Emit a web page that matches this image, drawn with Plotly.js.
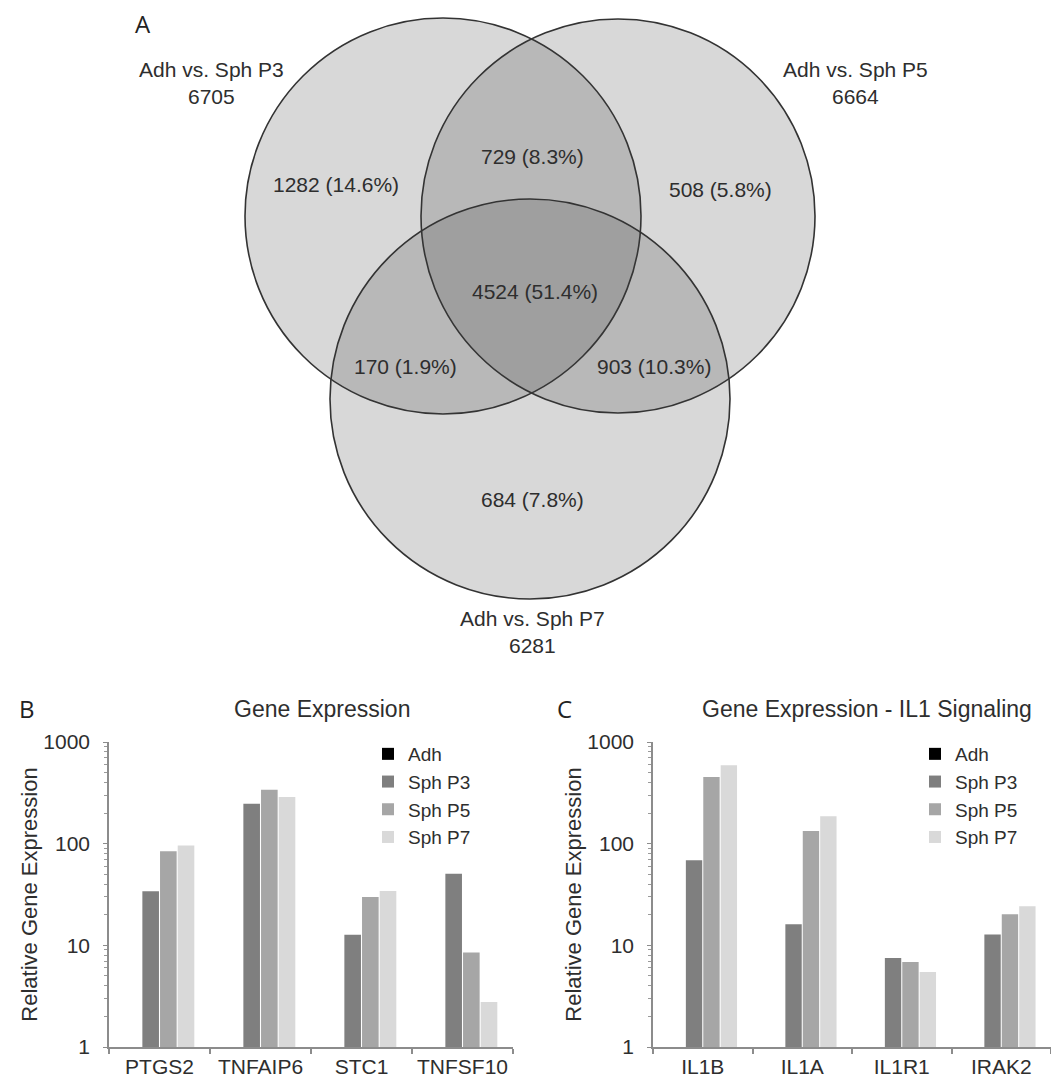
<!DOCTYPE html>
<html><head><meta charset="utf-8">
<script src="https://cdn.plot.ly/plotly-3.0.1.min.js"></script>
<style>html,body{margin:0;padding:0;background:#fff}#chart{width:1051px;height:1082px}</style>
</head><body><div id="chart"></div>
<script>
// ---------- Data ----------
// Panel A – Venn diagram
const vennSets = ['Adh vs. Sph P3', 'Adh vs. Sph P5', 'Adh vs. Sph P7'];
const vennTotals = [6705, 6664, 6281];
const vennCounts = [1282, 729, 508, 4524, 170, 903, 684];   // P3 only, P3&P5, P5 only, all, P3&P7, P5&P7, P7 only
const vennPercents = [14.6, 8.3, 5.8, 51.4, 1.9, 10.3, 7.8];

// Panel B – Gene Expression
const genesB = ['PTGS2', 'TNFAIP6', 'STC1', 'TNFSF10'];
const adhB = [1, 1, 1, 1];
const p3B = [34, 247, 12.7, 50.7];
const p5B = [84, 340, 29.9, 8.5];
const p7B = [96, 288, 34.2, 2.77];

// Panel C – Gene Expression - IL1 Signaling
const genesC = ['IL1B', 'IL1A', 'IL1R1', 'IRAK2'];
const adhC = [1, 1, 1, 1];
const p3C = [68.6, 16.1, 7.5, 12.8];
const p5C = [453, 133, 6.86, 20.2];
const p7C = [589, 186, 5.47, 24.2];

const seriesNames = ['Adh', 'Sph P3', 'Sph P5', 'Sph P7'];
const yTickVals = [1, 10, 100, 1000];
const yTickText = ['1', '10', '100', '1000'];

// ---------- Layout / style ----------
const W = 1051, H = 1082;
const px = v => v / W;
const py = v => (H - v) / H;
const FONT = 'Liberation Sans, Arial, Helvetica, sans-serif';
const TXT = '#2e2e2e';
const seriesColors = ['#000000', '#7f7f7f', '#a6a6a6', '#d9d9d9'];

// Venn geometry (pixel space of hidden overlay axis)
const circleGeom = [
  {cx: 443, cy: 216, r: 198},
  {cx: 618, cy: 216, r: 197},
  {cx: 530, cy: 399, r: 200}
];
const setLabelPos = [{x: 211, y: 83}, {x: 855, y: 83}, {x: 532, y: 632}];
const regionLabelPos = [
  {x: 336, y: 184}, {x: 532, y: 156}, {x: 720, y: 189}, {x: 535, y: 291},
  {x: 405, y: 366}, {x: 654, y: 366}, {x: 532, y: 499}
];

const traces = [];
const seriesB = [adhB, p3B, p5B, p7B];
const seriesC = [adhC, p3C, p5C, p7C];
seriesNames.forEach((name, i) => {
  traces.push({
    type: 'bar', name: name, x: genesB, y: seriesB[i], xaxis: 'x', yaxis: 'y',
    marker: {color: seriesColors[i], line: {width: 0}}, legend: 'legend', hoverinfo: 'x+y+name'
  });
});
seriesNames.forEach((name, i) => {
  traces.push({
    type: 'bar', name: name, x: genesC, y: seriesC[i], xaxis: 'x2', yaxis: 'y2',
    marker: {color: seriesColors[i], line: {width: 0}}, legend: 'legend2', hoverinfo: 'x+y+name'
  });
});
// empty trace to host the overlay axes for the Venn diagram
traces.push({type: 'scatter', x: [], y: [], xaxis: 'x3', yaxis: 'y3', showlegend: false, hoverinfo: 'skip'});

const plotTop = 742, plotBottom = 1047;
const yDomain = [py(plotBottom), py(plotTop)];

function yAxis(anchor) {
  return {
    type: 'log', range: [0, 3], domain: yDomain, anchor: anchor,
    tickvals: yTickVals, ticktext: yTickText,
    ticks: 'outside', ticklen: 4, tickwidth: 1, tickcolor: '#8c8c8c',
    ticklabelstandoff: 9,
    minor: {ticks: 'outside', ticklen: 3, tickcolor: '#9a9a9a', dtick: 'D1', showgrid: false},
    showline: true, linecolor: '#8c8c8c', linewidth: 1.5,
    showgrid: false, zeroline: false, automargin: false,
    tickfont: {family: FONT, size: 21, color: TXT},
    title: {text: 'Relative Gene Expression', font: {family: FONT, size: 22, color: TXT}, standoff: 0}
  };
}
function xAxis(anchor, domain) {
  return {
    domain: domain, anchor: anchor, type: 'category',
    ticks: 'outside', tickson: 'boundaries', ticklen: 5, tickcolor: '#8c8c8c', tickwidth: 1.5,
    showline: true, linecolor: '#8c8c8c', linewidth: 1.5, showgrid: false, automargin: false,
    tickfont: {family: FONT, size: 21, color: TXT}
  };
}

const shapes = circleGeom.map(c => ({
  type: 'circle', xref: 'x3', yref: 'y3',
  x0: c.cx - c.r, x1: c.cx + c.r, y0: c.cy - c.r, y1: c.cy + c.r,
  fillcolor: 'rgba(60,60,60,0.2)', line: {color: '#333333', width: 1.6}, layer: 'above'
}));

const annotations = [];
vennSets.forEach((s, i) => annotations.push({
  xref: 'x3', yref: 'y3', x: setLabelPos[i].x, y: setLabelPos[i].y, showarrow: false,
  text: s + '<br>' + vennTotals[i], align: 'center',
  font: {family: FONT, size: 21, color: TXT}
}));
vennCounts.forEach((c, i) => annotations.push({
  xref: 'x3', yref: 'y3', x: regionLabelPos[i].x, y: regionLabelPos[i].y, showarrow: false,
  text: c + ' (' + vennPercents[i].toFixed(1) + '%)',
  font: {family: FONT, size: 21, color: TXT}
}));
const letterFont = {family: 'Open Sans, DejaVu Sans, sans-serif', size: 24, color: '#222'};
annotations.push({xref: 'x3', yref: 'y3', x: 143, y: 23, text: 'A', showarrow: false, font: letterFont});
annotations.push({xref: 'x3', yref: 'y3', x: 27, y: 708, text: 'B', showarrow: false, font: letterFont});
annotations.push({xref: 'x3', yref: 'y3', x: 564, y: 708, text: 'C', showarrow: false, font: letterFont});
annotations.push({xref: 'x3', yref: 'y3', x: 322, y: 709, text: 'Gene Expression', showarrow: false,
  font: {family: FONT, size: 23, color: TXT}});
annotations.push({xref: 'x3', yref: 'y3', x: 867, y: 709, text: 'Gene Expression - IL1 Signaling', showarrow: false,
  font: {family: FONT, size: 23, color: TXT}});

const legendStyle = (xLeft) => ({
  x: px(xLeft), y: py(735), xanchor: 'left', yanchor: 'top',
  bgcolor: 'rgba(0,0,0,0)', borderwidth: 0, tracegroupgap: 0, itemwidth: 30,
  font: {family: FONT, size: 19, color: TXT}
});

const layout = {
  width: W, height: H,
  margin: {l: 0, r: 0, t: 0, b: 0, pad: 0},
  paper_bgcolor: '#ffffff', plot_bgcolor: 'rgba(0,0,0,0)',
  barmode: 'group', bargap: 0.3, bargroupgap: 0.06,
  showlegend: true,
  xaxis: xAxis('y', [px(109), px(513)]),
  yaxis: yAxis('x'),
  xaxis2: xAxis('y2', [px(653), 1]),
  yaxis2: yAxis('x2'),
  xaxis3: {domain: [0, 1], range: [0, W], anchor: 'y3', visible: false, fixedrange: true},
  yaxis3: {domain: [0, 1], range: [H, 0], anchor: 'x3', visible: false, fixedrange: true},
  legend: legendStyle(368),
  legend2: legendStyle(915),
  shapes: shapes,
  annotations: annotations,
  hovermode: 'closest'
};

Plotly.newPlot('chart', traces, layout, {displayModeBar: false, responsive: false});
</script>
</body></html>
